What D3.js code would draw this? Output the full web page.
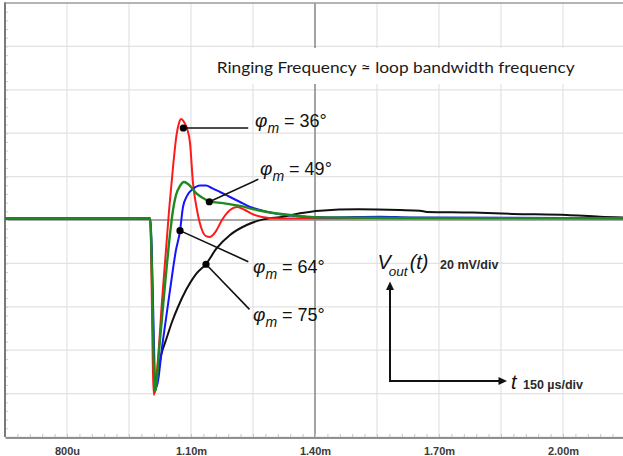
<!DOCTYPE html>
<html><head><meta charset="utf-8">
<script src="https://cdn.jsdelivr.net/npm/d3@7"></script>
<style>html,body{margin:0;padding:0;background:#fff;} svg{display:block;}</style>
</head><body>
<svg id="c" width="623" height="456"></svg>
<script>
// ---- data (time in µs, voltage in mV relative to steady state) ----
const timeTicks = [800, 1100, 1400, 1700, 2000];
const timeTickLabels = ["800u", "1.10m", "1.40m", "1.70m", "2.00m"];

const redSeries = [
  [650,0.7],[1001,0.7],[1010,-80.6],[1020,-64.5],[1030,-36.9],[1039.5,-13.8],[1047,4.6],
  [1056.5,24.4],[1065,39.2],[1071,44.7],[1076,46.5],[1083,45.2],[1090,42.4],[1097.6,35.5],
  [1104.8,17.1],[1114.5,4.6],[1126.6,-4.6],[1136.3,-7.4],[1146,-7.8],[1160.5,-5.1],
  [1175,0],[1194.4,4.6],[1211.3,6.0],[1230.6,4.6],[1247.6,2.8],[1271.8,1.4],[1315,0.7],
  [1600,0.8],[2145,0.8]
];
const greenSeries = [
  [650,0.7],[1001,0.7],[1013,-78.8],[1025,-55.3],[1037,-30.0],[1049,-6.9],[1056.5,4.6],
  [1063.7,11.5],[1073.4,15.7],[1083.1,17.5],[1092.7,16.6],[1102.4,14.7],[1114.5,12.0],
  [1129,10.1],[1146,8.5],[1177.4,7.8],[1218.6,6.5],[1259.7,4.6],[1298.4,3.2],[1339.5,2.3],
  [1380.6,1.5],[1412,1.2],[1605.6,0.9],[2145,0.8]
];
const blueSeries = [
  [650,0.7],[1001,0.7],[1015.3,-77.4],[1032.3,-55.3],[1049.2,-32.3],[1063.7,-13.8],
  [1073.4,-5.1],[1080.6,6.0],[1090.3,11.1],[1104.8,14.3],[1121.8,15.9],[1136.3,15.9],
  [1150.8,14.7],[1170.2,12.9],[1194.4,10.6],[1218.6,8.3],[1242.8,6.0],[1267,4.6],
  [1298.4,3.2],[1339.5,2.1],[1380.6,1.4],[1436.3,1.2],[1557,1.5],[1630,1.2],[2145,0.8]
];
const blackSeries = [
  [650,0.7],[1001,0.7],[1013,-79.3],[1020.2,-69.1],[1029.8,-60.8],[1039.5,-55.3],
  [1054,-47.0],[1068.5,-40.1],[1087.9,-32.3],[1112.1,-24.9],[1136.3,-20.3],[1162.2,-13.0],
  [1194.4,-6.9],[1234.8,-2.3],[1275,0.3],[1322.6,1.5],[1363.7,3.1],[1412.1,4.3],[1504,4.9],
  [1605.6,4.6],[1654,4.3],[1671,3.7],[1782,3.4],[1879,2.8],[2009.7,2.3],[2089.5,1.5],[2145,1.2]
];
// annotation: label, marker point, leader end, label anchor (data units)
const phaseLabels = ["36°", "49°", "64°", "75°"];
const markerPoints = [[1081.4,42.4],[1144.3,8.4],[1073.4,-4.9],[1136.3,-20.4]];
const leaderEnds  = [[1238.5,42.4],[1262.8,18.8],[1238.6,-19.2],[1241.5,-41.2]];
const labelAnchors = [[1254.8,43.0],[1267,20.7],[1250,-24.2],[1250,-46.5]];

const titleText = "Ringing Frequency \u2248 loop bandwidth frequency";

// ---- layout ----
const svg = d3.select("#c");
const L = 5, R = 625, T = 3, B = 437;
const x = d3.scaleLinear().domain([650, 2150]).range([L, R]);
const y = d3.scaleLinear().domain([-100, 100]).range([B, T]);

// grid
const gridT = d3.range(650, 2151, 150);
const gridV = d3.range(-100, 101, 20);
svg.append("g").selectAll("line").data(gridT.filter(d => d !== 1400)).join("line")
  .attr("x1", d => x(d)).attr("x2", d => x(d)).attr("y1", T).attr("y2", B)
  .attr("stroke", "#e2e2e2").attr("stroke-width", 1.2);
svg.append("g").selectAll("line").data(gridV.filter(d => d !== 0)).join("line")
  .attr("x1", L).attr("x2", 623).attr("y1", d => y(d)).attr("y2", d => y(d))
  .attr("stroke", "#e2e2e2").attr("stroke-width", 1.2);
// centre lines
svg.append("line").attr("x1", x(1400)).attr("x2", x(1400)).attr("y1", T).attr("y2", B)
  .attr("stroke", "#8c8c8c").attr("stroke-width", 1.6);
svg.append("line").attr("x1", L).attr("x2", 623).attr("y1", y(0)).attr("y2", y(0))
  .attr("stroke", "#8c8c8c").attr("stroke-width", 1.6);

// minor ticks
svg.append("g").attr("transform", `translate(0,${B})`)
  .call(d3.axisBottom(x).tickValues(d3.range(680, 2150, 30)).tickSize(-3).tickFormat(""))
  .call(g => g.select(".domain").remove())
  .call(g => g.selectAll("line").attr("stroke", "#c4c4c4"));
svg.append("g").attr("transform", `translate(${L},0)`)
  .call(d3.axisLeft(y).tickValues(d3.range(-96, 100, 4)).tickSize(-3).tickFormat(""))
  .call(g => g.select(".domain").remove())
  .call(g => g.selectAll("line").attr("stroke", "#cfcfcf"));

// borders
svg.append("line").attr("x1", L).attr("x2", 623).attr("y1", T).attr("y2", T)
  .attr("stroke", "#a0a0a0").attr("stroke-width", 1.5);
svg.append("line").attr("x1", L).attr("x2", L).attr("y1", T - 0.75).attr("y2", B)
  .attr("stroke", "#7a7a7a").attr("stroke-width", 2);

// bottom axis with labels
svg.append("g").attr("transform", `translate(0,${B + 0.5})`)
  .call(d3.axisBottom(x).tickValues(timeTicks).tickSize(0).tickPadding(10)
    .tickFormat((d, i) => timeTickLabels[i]))
  .call(g => g.select(".domain").attr("stroke", "#6e6e6e").attr("stroke-width", 1.6))
  .call(g => g.selectAll("text").attr("font-family", "Liberation Sans, Arial, sans-serif")
    .attr("font-size", 11).attr("font-weight", "bold").attr("fill", "#3a3a3a"));

// title box + title
svg.append("rect").attr("x", 205).attr("y", 48).attr("width", 386).attr("height", 36).attr("fill", "#fff");
svg.append("text").attr("x", 216.7).attr("y", 72.7)
  .attr("font-family", "Lato, 'Open Sans', sans-serif").attr("font-size", 16)
  .attr("fill", "#1a1a1a").attr("textLength", 358).attr("lengthAdjust", "spacingAndGlyphs")
  .text(titleText);

// curves
const line = d3.line().x(d => x(d[0])).y(d => y(d[1])).curve(d3.curveMonotoneX);
const series = [
  {data: blackSeries, color: "#111111", w: 2},
  {data: redSeries, color: "#ff1a1a", w: 2},
  {data: blueSeries, color: "#1414ff", w: 2},
  {data: greenSeries, color: "#1f8a1f", w: 2.4}
];
svg.append("g").selectAll("path").data(series).join("path")
  .attr("d", d => line(d.data)).attr("fill", "none")
  .attr("stroke", d => d.color).attr("stroke-width", d => d.w)
  .attr("stroke-linejoin", "round");

// annotations
const ann = svg.append("g");
ann.selectAll("line").data(markerPoints).join("line")
  .attr("x1", d => x(d[0])).attr("y1", d => y(d[1]))
  .attr("x2", (d, i) => x(leaderEnds[i][0])).attr("y2", (d, i) => y(leaderEnds[i][1]))
  .attr("stroke", "#111").attr("stroke-width", 1.6);
ann.selectAll("circle").data(markerPoints).join("circle")
  .attr("cx", d => x(d[0])).attr("cy", d => y(d[1])).attr("r", 3.6).attr("fill", "#000");
const lab = ann.selectAll("text").data(phaseLabels).join("text")
  .attr("x", (d, i) => x(labelAnchors[i][0])).attr("y", (d, i) => y(labelAnchors[i][1]))
  .attr("font-family", "Liberation Sans, Arial, sans-serif").attr("font-size", 18).attr("fill", "#111");
lab.append("tspan").attr("font-style", "italic").attr("font-size", 19).text("\u03c6");
lab.append("tspan").attr("font-style", "italic").attr("font-size", 14).attr("dy", 6).text("m");
lab.append("tspan").attr("dy", -6).text(d => " = " + d);

// scale indicator
const ind = svg.append("g").attr("fill", "#111");
ind.append("line").attr("x1", 390).attr("x2", 390).attr("y1", 381.5).attr("y2", 289)
  .attr("stroke", "#111").attr("stroke-width", 2);
ind.append("line").attr("x1", 389).attr("x2", 499).attr("y1", 381).attr("y2", 381)
  .attr("stroke", "#111").attr("stroke-width", 2);
ind.append("path").attr("d", "M390,281.5 L386,290 L394,290 Z");
ind.append("path").attr("d", "M507,381 L498.5,377 L498.5,385 Z");
const vt = ind.append("text").attr("x", 377.5).attr("y", 269)
  .attr("font-family", "Liberation Sans, Arial, sans-serif").attr("font-size", 20).attr("font-style", "italic");
vt.append("tspan").text("V");
vt.append("tspan").attr("font-size", 13.5).attr("dy", 6.5).attr("dx", -2).text("out");
vt.append("tspan").attr("dy", -6.5).attr("dx", 2).text("(t)");
ind.append("text").attr("x", 440).attr("y", 268.5)
  .attr("font-family", "Liberation Sans, Arial, sans-serif").attr("font-size", 12.5).attr("font-weight", "bold")
  .attr("fill", "#2a2a2a").text("20 mV/div");
ind.append("text").attr("x", 511).attr("y", 388.5)
  .attr("font-family", "Liberation Sans, Arial, sans-serif").attr("font-size", 20).attr("font-style", "italic")
  .text("t");
ind.append("text").attr("x", 523).attr("y", 388.5)
  .attr("font-family", "Liberation Sans, Arial, sans-serif").attr("font-size", 12.5).attr("font-weight", "bold")
  .attr("fill", "#2a2a2a").text("150 \u00b5s/div");
</script>
</body></html>
